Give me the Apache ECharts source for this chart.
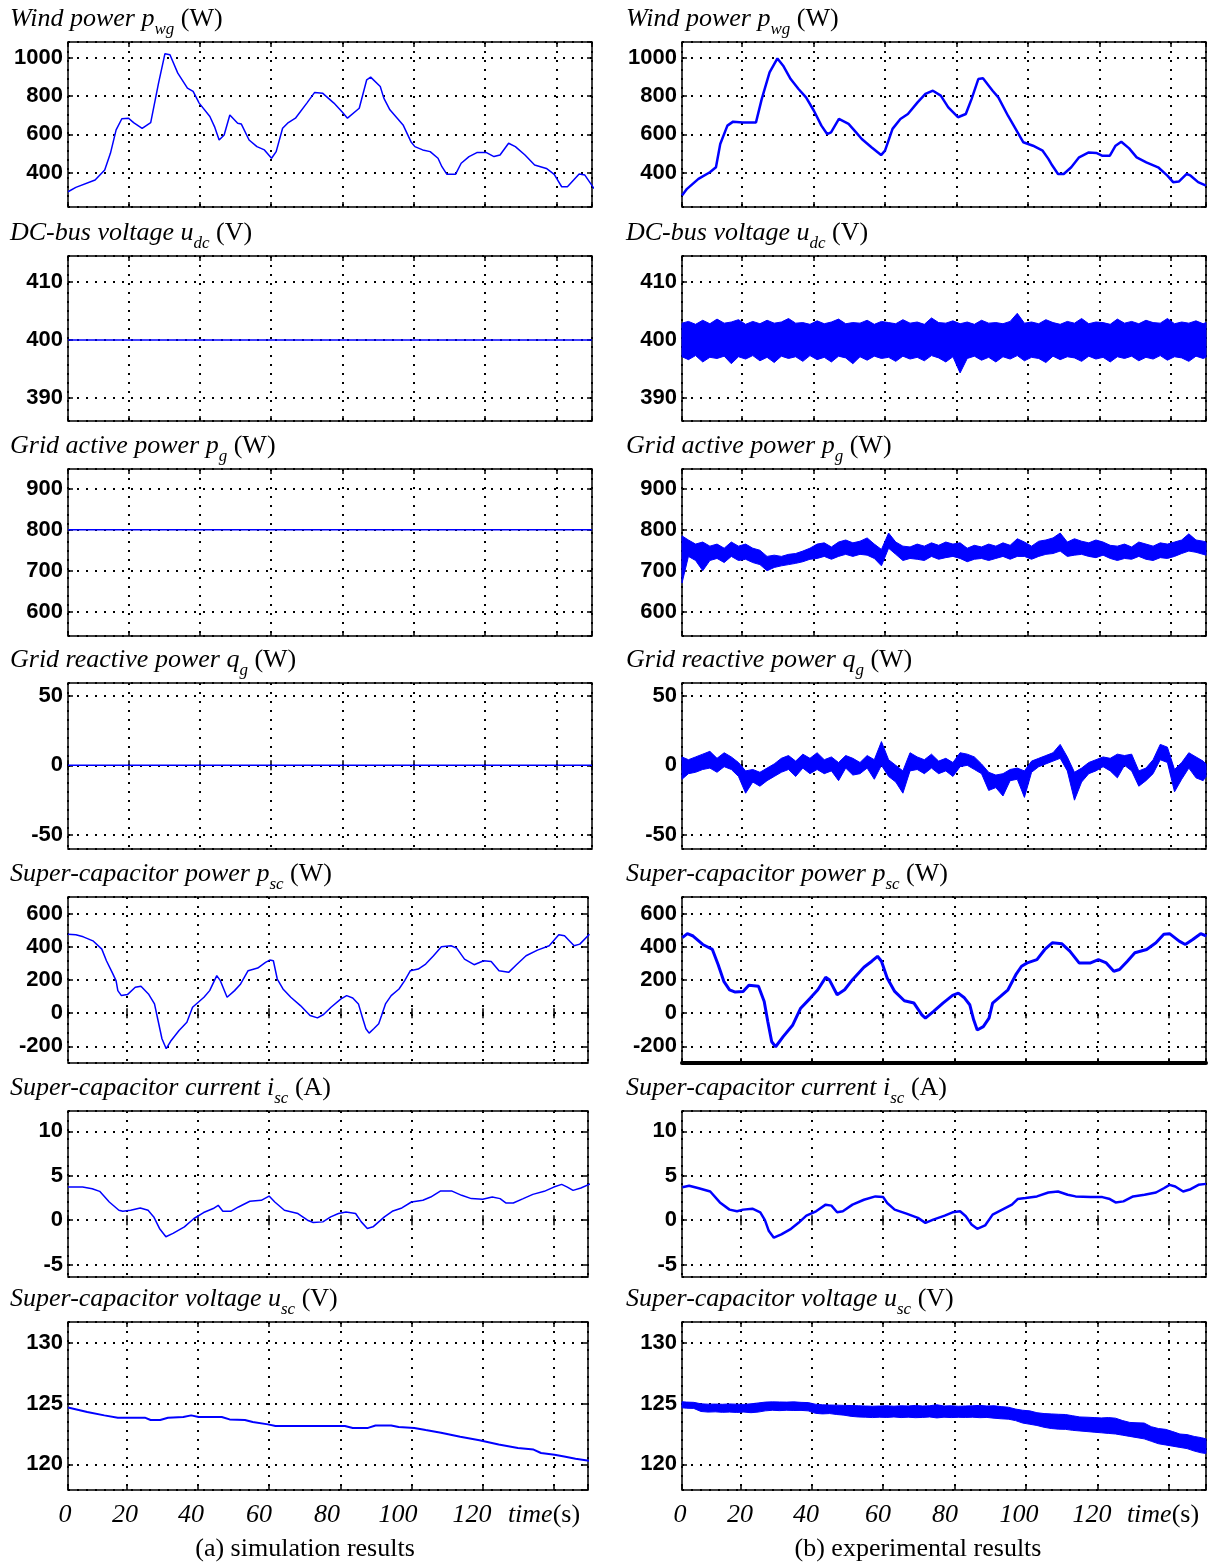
<!DOCTYPE html>
<html>
<head>
<meta charset="utf-8">
<script src="https://cdn.jsdelivr.net/npm/echarts@6/dist/echarts.min.js"></script>
<style>
  html, body { margin: 0; padding: 0; background: #fff; }
  #chart { width: 1212px; height: 1564px; }
</style>
</head>
<body>
<div id="chart"></div>
<script>
// ---- data (time in s) ----
const windSimT = [3,5.2,10.6,13.3,14.9,16.5,18.1,20,21.4,23.8,26.2,28.4,30.2,31.6,33.8,36.5,38.1,39.8,42.8,44.1,45.4,46.8,48.4,50.6,51.6,53.8,56,58.1,60.1,61.4,63.2,64.6,66.8,70,72.2,74.4,77.6,79.8,81.4,84.7,86.8,87.9,90.6,91.6,93.3,97,99.2,100.3,102.5,104.6,106.8,107.9,109.3,111.7,113.3,115.5,117.7,120.4,122.5,124.2,126.6,128.5,131.2,133.9,137.2,139.4,141.5,143.1,146.4,148,150.6];
const windSimV = [300,323,361,414,501,624,682,685,662,632,662,869,1023,1017,921,842,825,764,694,641,571,597,702,659,655,571,536,519,475,510,632,659,685,764,820,816,764,720,685,737,886,900,851,790,729,650,562,536,519,510,475,431,391,391,449,484,505,505,484,492,554,536,492,440,422,391,326,326,393,387,316];

const windExpT = [3.2,4.6,7.8,11,12.7,13.9,15.9,17.5,20.2,23.9,25.5,27.7,29.9,31.5,33.6,35.8,37.9,40.1,42.2,43.8,44.9,47.1,49.8,51.9,53.5,56.2,58.9,60,62.1,64.3,66.4,69.1,71.3,73.4,75.6,77.7,80.4,82.6,84.2,86.1,87.4,90.1,91.7,94.4,97.1,98.7,101.4,104.1,105.7,106.8,108.4,110,112.1,114.3,117,119.1,120.7,122.9,124.5,126.1,128.3,130.4,133.1,136.4,139,140.6,142.2,144.4,145.5,147.6,149.8];
const windExpV = [280,315,367,402,428,550,646,667,663,663,785,925,998,960,890,838,794,724,646,602,611,681,655,611,576,533,492,515,629,681,707,768,812,829,803,742,690,707,785,890,894,829,794,698,611,559,541,515,472,437,393,393,428,480,506,503,489,489,541,562,527,480,454,428,384,350,353,393,384,350,332];

const udcSimLevel = 400;
const pgSimLevel = 800;
const qgSimLevel = 0;

// sample times of the noisy experimental records
const noiseT = [3,5,7,9,11,13,15,17,19,21,23,25,27,29,31,33,35,37,39,41,43,45,47,49,51,53,55,57,59,61,63,65,67,69,71,73,75,77,79,81,83,85,87,89,91,93,95,97,99,101,103,105,107,109,111,113,115,117,119,121,123,125,127,129,131,133,135,137,139,141,143,145,147,149,151];

const udcHi = [
  402.9,403.2,402.7,403.4,402.8,403.6,402.9,403.1,403.5,402.7,403.2,402.8,403.4,402.9,403.1,
  403.7,402.9,403.0,402.7,403.3,402.8,403.1,403.6,402.8,403.0,402.9,403.4,402.7,403.2,403.0,
  402.8,403.5,402.9,403.1,402.7,403.8,403.0,402.9,403.3,402.8,403.1,402.7,403.4,402.9,403.0,
  402.8,403.2,404.6,402.9,403.1,402.8,403.5,403.0,402.7,403.2,402.9,403.7,402.8,403.1,403.0,
  402.7,403.6,402.9,403.2,402.8,403.4,403.0,402.9,403.7,402.8,403.1,402.9,403.3,402.8,403.0];
const udcLo = [
  397.1,396.6,397.3,396.2,397.0,396.8,397.2,395.9,397.1,396.7,397.3,396.4,397.0,396.1,397.2,
  396.8,397.1,396.3,397.3,396.6,397.0,396.2,397.2,396.9,395.9,397.1,396.5,397.2,396.8,397.0,
  396.3,397.2,396.7,397.0,396.4,397.3,396.9,396.2,397.1,394.3,396.8,397.2,396.5,397.0,396.2,
  397.1,396.7,397.3,396.4,397.0,396.8,396.1,397.2,396.6,397.1,396.9,396.3,397.2,396.7,397.0,
  396.2,397.1,396.8,397.2,396.4,397.0,396.7,397.3,396.5,397.1,396.9,396.3,397.2,396.8,397.0];

const pgHi = [
  785,775,765,770,760,765,755,770,760,765,755,750,735,738,735,
  740,742,748,755,765,768,758,770,775,768,772,780,765,752,792,
  770,760,758,765,760,768,762,770,765,768,755,762,758,765,760,
  768,762,778,770,760,772,775,780,792,770,778,772,768,775,770,
  762,760,765,758,770,765,760,768,765,770,775,790,775,772,770];
const pgLo = [
  670,735,725,700,725,730,720,735,725,728,720,715,700,708,712,
  715,718,722,728,730,735,728,735,740,735,740,738,730,712,755,
  740,725,730,728,725,735,728,732,735,730,722,728,730,725,730,
  735,728,735,735,728,735,740,742,748,735,738,740,735,732,738,
  730,725,730,728,735,728,725,732,730,735,742,748,745,740,738];

const qgHi = [
  6,4,6,8,10,5,9,6,2,-4,-3,-5,-2,1,5,
  7,3,8,5,9,4,6,2,7,5,2,7,4,17,4,
  0,-4,9,6,4,8,3,5,2,9,8,6,1,-5,-7,
  -6,-3,-2,-4,3,5,7,9,15,6,-5,-2,2,4,6,
  5,8,7,8,-4,-2,4,15,13,-3,2,9,6,3,1];
const qgLo = [
  -10,-6,-5,-3,-2,-5,-1,-3,-8,-20,-12,-15,-11,-8,-5,
  -3,-8,-2,-6,-3,-6,-4,-11,-2,-7,-6,-2,-10,0,-8,
  -12,-20,-4,-3,-6,-2,-6,-4,-8,-1,0,-3,-6,-18,-16,
  -22,-11,-10,-23,-5,-1,1,3,5,-4,-25,-12,-6,-4,-1,
  -4,-9,0,-4,-15,-11,-6,4,2,-19,-10,-2,-9,-11,-8];

const pscSimT = [3.5,5.7,7.8,10.5,13,14.3,15.9,17,17.5,18.5,20.2,22.4,24,26.1,27.8,28.8,29.9,31.1,32.5,34.7,36.9,38.5,40.1,41.7,43.3,44.4,45.3,46.3,48.2,50.3,52,54.1,56.8,59,60.2,61.2,62.3,63.9,66.1,68.8,71.5,73.6,75.3,77.4,80.2,81.8,83.5,85.1,86.2,87.2,88.1,89.4,90.8,91.6,92.7,94.3,96.5,98.1,99.7,101.9,104,106.2,108.4,111.1,112.7,114.9,117.6,120.3,122.4,124.6,127.3,129.5,132.2,135.4,138.7,141.4,143,145.7,147.3,150];
const pscSimV = [476,472,460,436,386,316,246,196,136,106,112,156,162,116,56,-44,-154,-214,-164,-104,-54,36,66,96,136,186,226,196,96,136,176,256,272,306,320,316,206,146,96,46,-14,-28,-8,36,86,106,92,56,-24,-94,-120,-94,-64,-14,56,106,146,196,256,266,296,346,400,406,392,326,292,316,312,256,246,292,346,380,406,472,466,406,416,476];

const pscExpT = [3.8,5.2,6.8,9.5,12.2,13.8,15.4,17,18.6,20.8,22.4,25.1,26.7,27.7,28.8,29.9,32,34.7,36.9,39.6,41.7,43.9,44.9,47.1,49.2,51.4,54.6,56.8,58.4,59.5,61.1,63.2,65.9,68.6,70.8,71.8,74,76.7,79.4,81,82.6,84.2,85.3,86.3,88,89.6,90.6,92.8,94.9,97.1,98.7,100.3,103,105.2,107.3,110,112.2,114.8,118,120.2,122.4,124.5,126.1,128.3,130.4,133.7,136.3,138.5,140.1,142.8,144.5,146.6,148.8,150.4];
const pscExpV = [455,479,465,414,384,293,192,141,127,131,168,162,71,-50,-172,-202,-141,-71,30,91,141,216,202,111,141,202,277,313,343,313,212,131,75,61,-10,-30,10,61,107,121,95,51,-40,-101,-81,-30,61,101,141,232,283,303,323,384,424,418,374,303,303,323,303,253,263,313,364,384,424,475,479,434,414,444,479,465];

const iscSimT = [3.5,7.6,10.3,12.4,15.1,17.8,18.9,21.1,23.8,26,27.6,29.2,31,33,36.2,38.9,41.6,44.3,45.7,47,49.2,51.4,54.6,57.8,60,61.6,64.3,68.1,70.8,72.4,75.1,77.3,79.5,81.6,84.3,85.9,87.6,89.2,90.8,92.4,94.6,97.3,100,103.2,105.4,108.1,111.4,114.1,116.8,120,122.7,124.9,126.5,128.6,131.4,134.1,137.3,140,142.2,143.8,145.4,147.6,150.3];
const iscSimV = [3.73,3.73,3.54,3.25,2.05,1.12,1.0,1.12,1.38,1.12,0.37,-0.93,-1.87,-1.49,-0.75,0.19,0.86,1.31,1.68,1.0,1.0,1.49,2.13,2.24,2.72,2.05,1.12,0.75,0,-0.26,-0.19,0.37,0.75,0.93,0.75,-0.19,-0.93,-0.75,-0.19,0.37,1.0,1.38,2.05,2.24,2.61,3.28,3.28,2.8,2.43,2.35,2.61,2.43,1.94,1.94,2.43,2.91,3.25,3.73,4.03,3.73,3.36,3.62,4.1];

const iscExpT = [3.8,5.7,8.4,11.6,14.3,17,19.1,20.8,23.4,25.6,26.9,28,29.4,31.5,34.2,36.3,38.5,41.2,43.9,45.5,47.1,48.7,51.4,54.6,57.8,60,61.1,63.2,66.5,69.7,71.8,74,77.2,79.4,81.5,83.1,84.7,86.3,88.5,90.6,93.3,96,97.6,99.8,103,106.2,108.9,111.6,113.8,118,121.3,123.4,125,127.2,129.9,133.1,136.3,138.5,140.1,141.7,143.9,146,148.2,150.3];
const iscExpV = [3.72,3.87,3.6,3.23,2.0,1.19,1.0,1.19,1.3,0.89,0,-1.23,-1.97,-1.6,-0.97,-0.3,0.52,1.0,1.75,1.64,0.89,1.0,1.75,2.3,2.68,2.6,1.93,1.19,0.74,0.26,-0.3,0.07,0.52,0.89,1.0,0.45,-0.48,-0.97,-0.59,0.63,1.19,1.75,2.38,2.49,2.68,3.12,3.23,2.86,2.68,2.6,2.6,2.38,2.0,2.12,2.68,2.86,3.12,3.6,3.98,3.79,3.23,3.49,3.98,4.09];

const uscSimT = [3.5,8.9,13.7,17.5,25.1,26.7,29.4,31.6,35.9,38.1,40.2,46.7,48.9,53.2,55.4,59.7,61.8,72.6,81.3,83.5,87.8,89.9,94.3,96.4,100.8,104,108.3,113.7,119.1,124.5,129.9,134.3,136.4,140.2,142.9,146.1,149.9];
const uscSimV = [124.67,124.31,124.03,123.84,123.84,123.65,123.65,123.84,123.9,124.03,123.9,123.9,123.7,123.65,123.48,123.29,123.15,123.15,123.15,123.0,123.0,123.2,123.2,123.07,123.0,122.82,122.6,122.27,121.99,121.63,121.35,121.22,120.94,120.8,120.66,120.47,120.3];

const uscHi = [
  125.15,125.12,125.1,124.98,124.95,124.96,124.94,124.97,124.95,124.93,124.98,125.05,125.12,125.14,125.13,
  125.12,125.14,125.1,125.08,124.95,124.9,124.88,124.87,124.85,124.84,124.82,124.8,124.78,124.8,124.82,
  124.78,124.82,124.8,124.85,124.8,124.82,124.9,124.8,124.82,124.78,124.8,124.82,124.85,124.8,124.82,
  124.75,124.7,124.55,124.45,124.4,124.25,124.18,124.15,124.12,124.1,124.0,123.9,123.88,123.85,123.82,
  123.85,123.8,123.6,123.45,123.42,123.4,123.1,122.95,122.88,122.7,122.5,122.45,122.3,122.2,122.1];
const uscLo = [
  124.65,124.62,124.6,124.35,124.3,124.32,124.28,124.3,124.27,124.3,124.25,124.3,124.4,124.45,124.42,
  124.45,124.43,124.44,124.4,124.2,124.15,124.18,124.1,124.05,123.95,123.9,123.88,123.85,123.88,123.86,
  123.9,123.85,123.88,123.84,123.86,123.9,123.82,123.88,123.85,123.87,123.86,123.88,123.84,123.86,123.8,
  123.75,123.72,123.6,123.4,123.3,123.2,123.05,122.95,122.9,122.88,122.8,122.75,122.7,122.65,122.6,
  122.55,122.5,122.4,122.3,122.2,122.1,121.9,121.7,121.6,121.5,121.4,121.3,121.1,120.95,120.9];

const timeTickLabels = ['0', '20', '40', '60', '80', '100', '120'];

// ---- layout ----
const BLUE = '#0000ff';
const SERIF = '"Liberation Serif", "Times New Roman", serif';
const SANS = '"Liberation Sans", Arial, sans-serif';

const rows = [
  { top: 42,   height: 165, yMin: 220,  yMax: 1084,  split: 4, title: '{i|Wind power p}{s|wg}{n| (W)}' },
  { top: 256,  height: 165, yMin: 386,  yMax: 414.5, split: 3, title: '{i|DC-bus voltage u}{s|dc}{n| (V)}' },
  { top: 469,  height: 167, yMin: 541,  yMax: 948,   split: 4, title: '{i|Grid active power p}{s|g}{n| (W)}' },
  { top: 683,  height: 166, yMin: -60,  yMax: 59,    split: 2, title: '{i|Grid reactive power q}{s|g}{n| (W)}' },
  { top: 897,  height: 166, yMin: -300, yMax: 700,   split: 5, title: '{i|Super-capacitor power p}{s|sc}{n| (W)}' },
  { top: 1111, height: 166, yMin: -6.4, yMax: 12.3,  split: 4, title: '{i|Super-capacitor current i}{s|sc}{n| (A)}' },
  { top: 1322, height: 168, yMin: 117.9, yMax: 131.7, split: 3, title: '{i|Super-capacitor voltage u}{s|sc}{n| (V)}' }
];
const cols = [
  { left: 68,  titleLeft: 10,  upper: { width: 524, xMin: 3,   xMax: 150 },   lower: { width: 520, xMin: 3.5, xMax: 149.6 } },
  { left: 682, titleLeft: 626, upper: { width: 524, xMin: 3.2, xMax: 149.8 }, lower: { width: 524, xMin: 3.7, xMax: 150.3 } }
];

const titleRich = {
  i: { fontFamily: SERIF, fontStyle: 'italic', fontWeight: 'normal', fontSize: 26, lineHeight: 32, color: '#000', verticalAlign: 'top' },
  s: { fontFamily: SERIF, fontStyle: 'italic', fontWeight: 'normal', fontSize: 17, lineHeight: 17, color: '#000', verticalAlign: 'bottom' },
  n: { fontFamily: SERIF, fontStyle: 'normal', fontWeight: 'normal', fontSize: 26, lineHeight: 32, color: '#000', verticalAlign: 'top' }
};

const dotted = { color: '#000', width: 2, type: [2, 7] };
const tick = { show: true, inside: true, length: 5, lineStyle: { color: '#000', width: 1.5 } };

const grids = [], xAxes = [], yAxes = [], titles = [], series = [];

rows.forEach((r, ri) => {
  cols.forEach((c, ci) => {
    const idx = ri * 2 + ci;
    const xs = ri < 4 ? c.upper : c.lower;
    grids.push({ left: c.left, top: r.top, width: xs.width, height: r.height, show: true,
      borderColor: '#000', borderWidth: 1.5, backgroundColor: '#fff' });
    xAxes.push({ gridIndex: idx, type: 'value', min: xs.xMin, max: xs.xMax, splitNumber: 7,
      axisLine: { show: false }, axisTick: tick, axisLabel: { show: false },
      splitLine: { show: true, lineStyle: dotted } });
    xAxes.push({ gridIndex: idx, type: 'value', position: 'top', min: xs.xMin, max: xs.xMax, splitNumber: 7,
      axisLine: { show: false }, axisTick: tick, axisLabel: { show: false }, splitLine: { show: false } });
    yAxes.push({ gridIndex: idx, type: 'value', min: r.yMin, max: r.yMax, splitNumber: r.split,
      axisLine: { show: false }, axisTick: tick,
      axisLabel: { show: true, showMinLabel: false, showMaxLabel: false, margin: 5,
        formatter: function (v) { return String(v); },
        fontFamily: SANS, fontWeight: 'bold', fontSize: 22, color: '#000' },
      splitLine: { show: true, lineStyle: dotted } });
    yAxes.push({ gridIndex: idx, type: 'value', position: 'right', min: r.yMin, max: r.yMax, splitNumber: r.split,
      axisLine: { show: false }, axisTick: tick, axisLabel: { show: false }, splitLine: { show: false } });
    titles.push({ text: r.title, left: c.titleLeft, top: r.top - 36, padding: 0,
      textStyle: { rich: titleRich } });
  });
});

// thick lower frame on the experimental super-capacitor power panel
xAxes[2 * 9].axisLine = { show: true, onZero: false, lineStyle: { color: '#000', width: 4 } };

function pairs(ts, vs) { return ts.map((t, k) => [t, vs[k]]); }
function line(idx, data, width) {
  return { type: 'line', xAxisIndex: 2 * idx, yAxisIndex: 2 * idx, data: data, symbol: 'none',
    silent: true, clip: true, lineStyle: { color: BLUE, width: width }, z: 3 };
}
function flat(idx, level) {
  const ax = xAxes[2 * idx];
  return line(idx, [[ax.min, level], [ax.max, level]], 1.5);
}
// filled envelope of a noisy record, hi edge forward and lo edge back
function band(idx, ts, hi, lo) {
  return {
    type: 'custom', xAxisIndex: 2 * idx, yAxisIndex: 2 * idx, silent: true, z: 3,
    data: [[ts[10], hi[10]]],
    renderItem: function (params, api) {
      const pts = [];
      for (let k = 0; k < ts.length; k++) pts.push(api.coord([ts[k], hi[k]]));
      for (let k = ts.length - 1; k >= 0; k--) pts.push(api.coord([ts[k], lo[k]]));
      const cs = params.coordSys;
      return { type: 'polygon',
        shape: { points: echarts.graphic.clipPointsByRect(pts, { x: cs.x, y: cs.y, width: cs.width, height: cs.height }) },
        style: { fill: BLUE, stroke: BLUE, lineWidth: 1 } };
    }
  };
}

series.push(line(0, pairs(windSimT, windSimV), 1.5));
series.push(line(1, pairs(windExpT, windExpV), 2.5));
series.push(flat(2, udcSimLevel));
series.push(band(3, noiseT, udcHi, udcLo));
series.push(flat(4, pgSimLevel));
series.push(band(5, noiseT, pgHi, pgLo));
series.push(flat(6, qgSimLevel));
series.push(band(7, noiseT, qgHi, qgLo));
series.push(line(8, pairs(pscSimT, pscSimV), 1.5));
series.push(line(9, pairs(pscExpT, pscExpV), 3));
series.push(line(10, pairs(iscSimT, iscSimV), 1.5));
series.push(line(11, pairs(iscExpT, iscExpV), 2.5));
series.push(line(12, pairs(uscSimT, uscSimV), 2));
series.push(band(13, noiseT, uscHi, uscLo));

// bottom time labels and captions
const labelXLeft = [65, 125, 191, 259, 327, 398, 472];
const labelXRight = [680, 740, 806, 878, 945, 1019, 1092];
const graphics = [];
const tickFont = 'italic 26px ' + SERIF;
[labelXLeft, labelXRight].forEach(function (xs) {
  xs.forEach(function (x, k) {
    graphics.push({ type: 'text', x: x, y: 1515, silent: true,
      style: { text: timeTickLabels[k], font: tickFont, fill: '#000', align: 'center', verticalAlign: 'middle' } });
  });
});
[544, 1163].forEach(function (x) {
  graphics.push({ type: 'text', x: x, y: 1515, silent: true,
    style: { text: '{i|time}{n|(s)}', align: 'center', verticalAlign: 'middle',
      rich: { i: { font: tickFont, fill: '#000' }, n: { font: '26px ' + SERIF, fill: '#000' } } } });
});
graphics.push({ type: 'text', x: 305, y: 1549, silent: true,
  style: { text: '(a) simulation results', font: '26px ' + SERIF, fill: '#000', align: 'center', verticalAlign: 'middle' } });
graphics.push({ type: 'text', x: 918, y: 1549, silent: true,
  style: { text: '(b) experimental results', font: '26px ' + SERIF, fill: '#000', align: 'center', verticalAlign: 'middle' } });

const chart = echarts.init(document.getElementById('chart'));
chart.setOption({
  animation: false,
  backgroundColor: '#fff',
  title: titles,
  grid: grids,
  xAxis: xAxes,
  yAxis: yAxes,
  series: series,
  graphic: graphics
});
</script>
</body>
</html>
